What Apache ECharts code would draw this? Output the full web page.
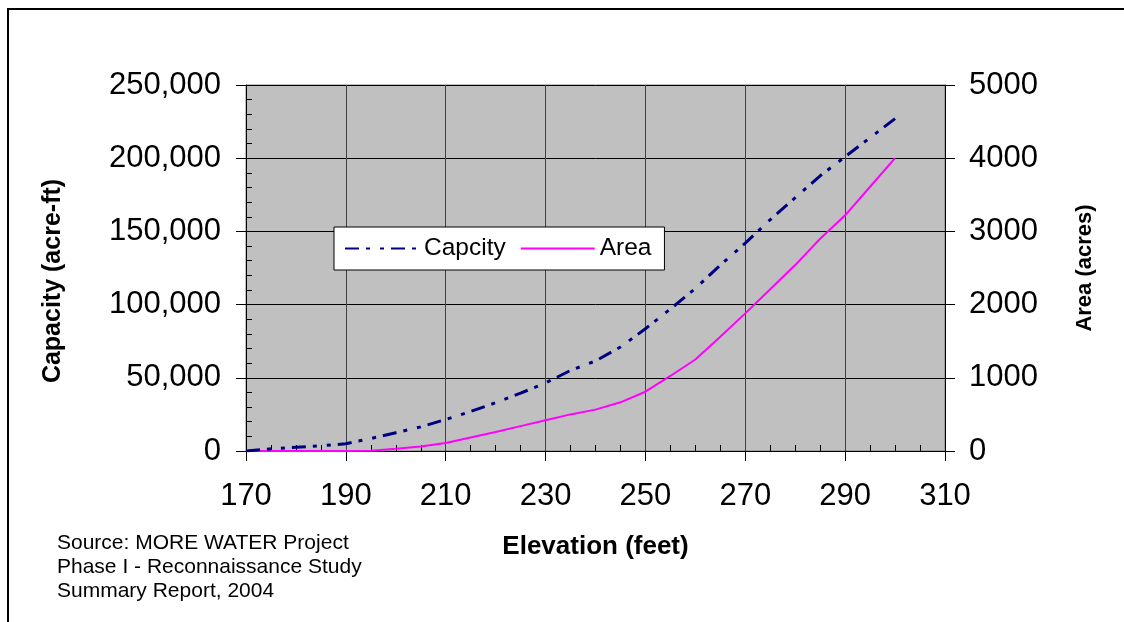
<!DOCTYPE html>
<html>
<head>
<meta charset="utf-8">
<script src="https://cdn.jsdelivr.net/npm/echarts@6/dist/echarts.min.js"></script>
<style>
  html, body { margin: 0; padding: 0; background: #fff; }
  #chart { width: 1124px; height: 622px; }
</style>
</head>
<body>
<div id="chart"></div>
<script>
// elevation (feet)
const elevation = [170, 175, 180, 185, 190, 195, 200, 205, 210, 215, 220, 225, 230, 235,
                   240, 245, 250, 255, 260, 265, 270, 275, 280, 285, 290, 295, 300];
// capacity (acre-ft)
const capacity = [0, 1500, 2500, 3500, 5000, 8500, 12500, 16500, 21500, 27000, 33000, 39500, 46500, 55000,
                  61500, 71000, 83500, 97000, 111000, 127000, 142000, 158000, 173000, 188000, 201000, 214000, 227000];
// area (acres)
const area = [0, 0, 0, 0, 0, 5, 30, 60, 110, 185, 260, 340, 420, 500,
              565, 665, 810, 1025, 1250, 1560, 1880, 2210, 2540, 2900, 3220, 3610, 4000];

const sourceLines = ['Source: MORE WATER Project', 'Phase I - Reconnaissance Study', 'Summary Report, 2004'];

const FONT = "'Liberation Sans', Arial, sans-serif";

let myChart = echarts.init(document.getElementById('chart'));

const option = {
    animation: false,
    backgroundColor: '#fff',
    textStyle: { fontFamily: FONT },
    grid: {
        left: 246, right: 179, top: 85, bottom: 171,
        show: true,
        backgroundColor: '#c0c0c0',
        borderColor: '#808080',
        borderWidth: 1
    },
    legend: {
        left: 334, top: 227,
        padding: [9, 13, 9, 10],
        itemWidth: 74,
        itemHeight: 14,
        itemGap: 14,
        backgroundColor: '#fff',
        borderColor: '#000',
        borderWidth: 1,
        borderRadius: 0,
        itemStyle: { opacity: 0 },
        textStyle: { fontFamily: FONT, fontSize: 24.5, color: '#000' },
        data: ['Capcity', 'Area']
    },
    xAxis: {
        type: 'value',
        min: 170, max: 310, interval: 20,
        name: 'Elevation (feet)',
        nameLocation: 'middle',
        nameGap: 83,
        nameTextStyle: { fontFamily: FONT, fontSize: 26, fontWeight: 'bold', color: '#000' },
        axisLine: { show: true, onZero: false, lineStyle: { color: '#000', width: 1 } },
        axisTick: { show: true, length: 10, lineStyle: { color: '#000' } },
        minorTick: { show: true, splitNumber: 4, length: -6, lineStyle: { color: '#000' } },
        axisLabel: { fontFamily: FONT, fontSize: 31, color: '#000', margin: 30 },
        splitLine: { show: true, lineStyle: { color: '#404040', width: 1 } }
    },
    yAxis: [
        {
            type: 'value',
            min: 0, max: 250000, interval: 50000,
            name: 'Capacity (acre-ft)',
            nameLocation: 'middle',
            nameRotate: 90,
            nameGap: 180,
            nameTextStyle: {
                fontFamily: FONT, fontSize: 25, fontWeight: 'bold', color: '#000',
                padding: [0, 26, 0, 0]
            },
            axisLine: { show: true, lineStyle: { color: '#000', width: 1 } },
            axisTick: { show: true, length: 10, lineStyle: { color: '#000' } },
            minorTick: { show: true, splitNumber: 5, length: -6, lineStyle: { color: '#000' } },
            axisLabel: {
                fontFamily: FONT, fontSize: 31, color: '#000', margin: 25,
                formatter: v => v.toLocaleString('en-US')
            },
            splitLine: { show: true, lineStyle: { color: '#000', width: 1 } }
        },
        {
            type: 'value',
            min: 0, max: 5000, interval: 1000,
            position: 'right',
            name: 'Area (acres)',
            nameLocation: 'middle',
            nameRotate: 90,
            nameGap: 129,
            nameTextStyle: { fontFamily: FONT, fontSize: 22, fontWeight: 'bold', color: '#000' },
            axisLine: { show: true, lineStyle: { color: '#000', width: 1 } },
            axisTick: { show: true, length: 10, lineStyle: { color: '#000' } },
            axisLabel: {
                fontFamily: FONT, fontSize: 31, color: '#000', margin: 24,
                formatter: v => String(v)
            },
            splitLine: { show: false }
        }
    ],
    graphic: [
        {
            type: 'rect',
            shape: { x: 8, y: 9, width: 1200, height: 700 },
            style: { fill: 'none', stroke: '#000', lineWidth: 2 },
            silent: true
        },
        {
            type: 'text',
            left: 57, top: 531,
            style: {
                text: sourceLines.join('\n'),
                font: '21px ' + FONT,
                lineHeight: 24,
                fill: '#000'
            }
        }
    ],
    series: [
        {
            name: 'Capcity',
            type: 'line',
            yAxisIndex: 0,
            symbol: 'none',
            data: elevation.map((e, i) => [e, capacity[i]]),
            lineStyle: { color: '#000080', width: 3, type: [14, 7, 4, 10, 4, 7] },
            itemStyle: { color: '#000080' },
            z: 3
        },
        {
            name: 'Area',
            type: 'line',
            yAxisIndex: 1,
            symbol: 'none',
            data: elevation.map((e, i) => [e, area[i]]),
            lineStyle: { color: '#ff00ff', width: 2 },
            itemStyle: { color: '#ff00ff' },
            z: 2
        }
    ]
};

myChart.setOption(option);
</script>
</body>
</html>
